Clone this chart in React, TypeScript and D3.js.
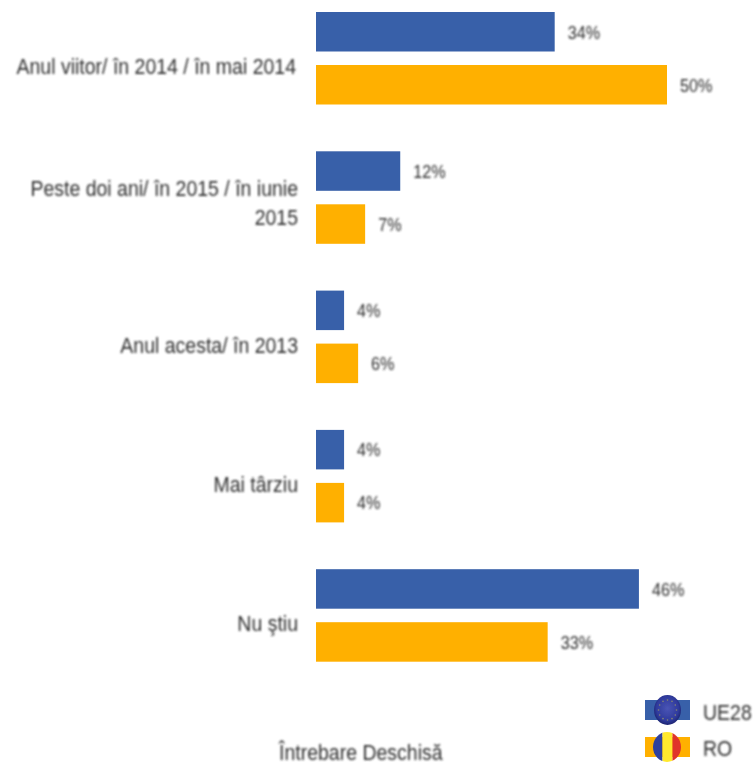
import React from "react";
import * as d3 from "d3";

const categories = ["Anul viitor/ în 2014 / în mai 2014", "Peste doi ani/ în 2015 / în iunie|2015", "Anul acesta/ în 2013", "Mai târziu", "Nu ştiu"];
const ue28 = [34, 12, 4, 4, 46];
const ro = [50, 7, 6, 4, 33];
const seriesNames = ["UE28", "RO"];
const blue = "#3760A9";
const orange = "#FFB000";
const textColor = "#2e2e2e";
const font = "'Liberation Sans', Arial, sans-serif";

const at = (px: number, py: number, sy = 1.12) => `translate(${px},${py}) scale(1,${sy})`;

export default function App() {
  const x = d3.scaleLinear().domain([0, 50]).range([316, 667]);
  const y = d3.scaleBand<number>().domain(d3.range(5)).range([-7.5, 689]).paddingInner(0).paddingOuter(0);
  const h = 39.5;
  const off1 = 19.5;
  const off2 = 72.5;
  const starAngles = d3.range(12).map((i) => (i * Math.PI) / 6);
  return (
    <svg width={753} height={763} style={{ position: "absolute", left: 0, top: 0, background: "#fff" }} fontFamily={font}>
      <defs>
        <filter id="soft" x="-5%" y="-5%" width="110%" height="110%">
          <feGaussianBlur stdDeviation="0.8" />
        </filter>
        <filter id="softBar" x="-5%" y="-5%" width="110%" height="110%">
          <feGaussianBlur stdDeviation="0.6" />
        </filter>
        <radialGradient id="eu" cx="50%" cy="45%" r="55%">
          <stop offset="0%" stopColor="#4a55b5" />
          <stop offset="75%" stopColor="#2f3a9c" />
          <stop offset="100%" stopColor="#1c2470" />
        </radialGradient>
        <clipPath id="flag"><ellipse cx={667} cy={747} rx={14} ry={15} /></clipPath>
      </defs>
      <g filter="url(#softBar)">
        {categories.map((_, i) => (
          <g key={i}>
            <rect x={x(0)} y={y(i)! + off1} width={x(ue28[i]) - x(0)} height={h} fill={blue} />
            <rect x={x(0)} y={y(i)! + off2} width={x(ro[i]) - x(0)} height={h} fill={orange} />
          </g>
        ))}
      </g>
      <g filter="url(#soft)" fill={textColor}>
        {categories.map((c, i) => {
          const lines = c.split("|");
          const cy = y(i)! + (lines.length > 1 ? 64.5 : 81.5);
          return lines.map((l, j) => (
            <text key={j} textAnchor="end" transform={at(i === 0 ? 296 : 298, cy + j * 29)} fontSize={19.5}>{l}</text>
          ));
        })}
        {categories.map((_, i) => (
          <g key={i}>
            <text transform={at(x(ue28[i]) + 13, y(i)! + off1 + 26.5, 1.15)} fontSize={16.2}>{ue28[i]}%</text>
            <text transform={at(x(ro[i]) + 13, y(i)! + off2 + 26.5, 1.15)} fontSize={16.2}>{ro[i]}%</text>
          </g>
        ))}
        <text transform={at(279, 760.5)} fontSize={19.5}>Întrebare Deschisă</text>
        <text transform={at(703, 719.5)} fontSize={19.5}>{seriesNames[0]}</text>
        <text transform={at(703, 755.5)} fontSize={19.5}>{seriesNames[1]}</text>
      </g>
      <g filter="url(#softBar)">
        <rect x={645} y={700} width={45} height={20} fill={blue} />
        <ellipse cx={667.5} cy={710} rx={13.5} ry={15} fill="url(#eu)" />
        {starAngles.map((a, i) => (
          <circle key={i} cx={667.5 + Math.cos(a) * 9} cy={710 + Math.sin(a) * 10} r={0.8} fill="#8a8a70" />
        ))}
        <rect x={645} y={737} width={45} height={20} fill={orange} />
        <g clipPath="url(#flag)">
          <rect x={653} y={731} width={9.5} height={32} fill="#2f3f9e" />
          <rect x={662.5} y={731} width={10} height={32} fill="#FFE92E" />
          <rect x={672.5} y={731} width={9} height={32} fill="#E0342A" />
        </g>
      </g>
    </svg>
  );
}
